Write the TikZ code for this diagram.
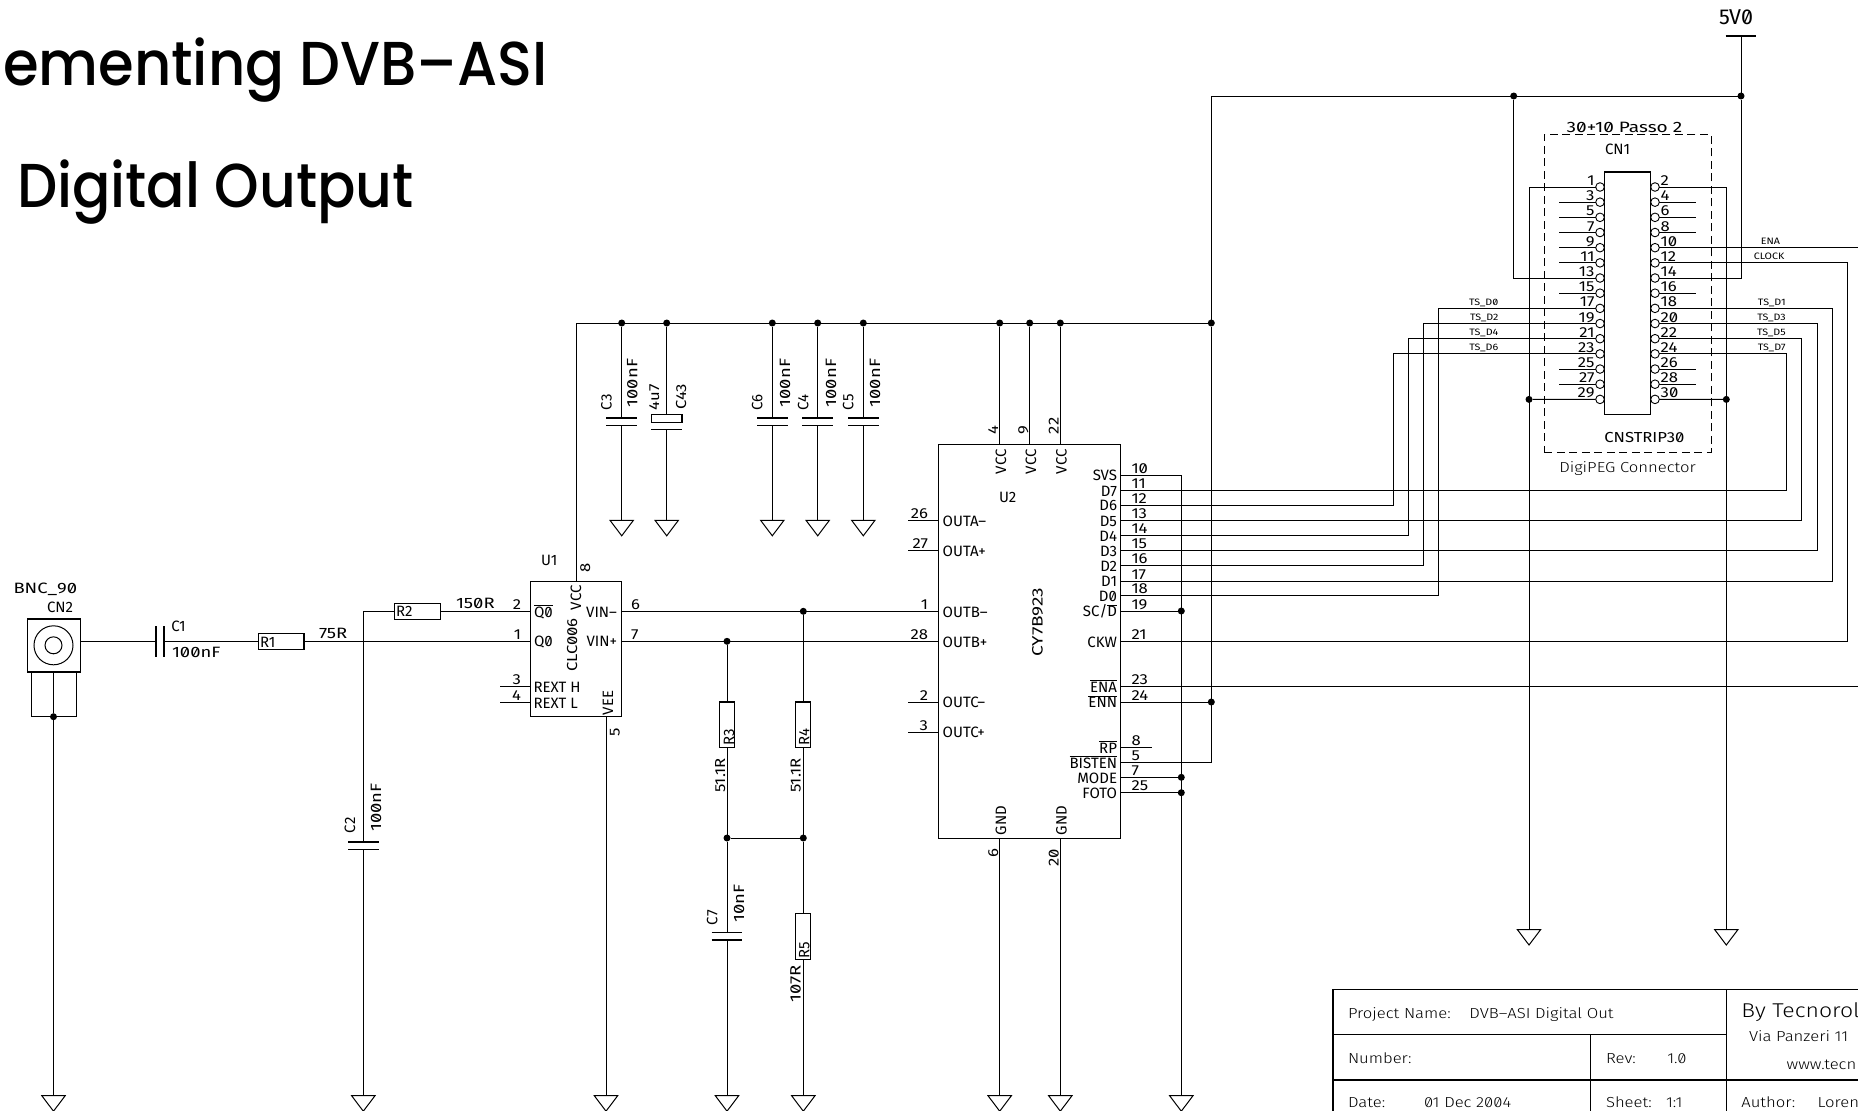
\documentclass[tikz,border=0pt]{standalone}
\usepackage{fontspec}
\newfontfamily\labfont[RawFeature=+zero]{Fira Sans}
\newfontfamily\pinfont[RawFeature=+zero,FakeStretch=1.15]{Fira Sans}
\newfontfamily\valfont[RawFeature=+zero,FakeStretch=1.23]{Fira Sans}
\newfontfamily\widefont[RawFeature=+zero,FakeStretch=1.27]{Fira Sans}
\newfontfamily\thinfont[RawFeature=+zero,FakeStretch=1.15]{Fira Sans Light}
\newfontfamily\titlefont{Poppins Medium}
\newcounter{tc}
\newcommand\ovl[1]{$\overline{\hbox{#1}}$}
\tikzset{
  wire/.style={line width=1pt,black},
  box/.style={draw=black,line width=1.3pt,inner sep=0pt,outer sep=0pt,fill=none},
  lab/.style={inner sep=0pt,outer sep=0pt,text=black,font=\labfont\fontsize{15}{15}\selectfont},
  pinno/.style={font=\pinfont\fontsize{14.5}{15}\selectfont},
  val/.style={font=\valfont\fontsize{15}{15}\selectfont},
  tinylab/.style={font=\pinfont\fontsize{9.3}{10}\selectfont},
  blocklab/.style={font=\thinfont\fontsize{14.5}{15}\selectfont},
  bigt/.style={inner sep=0pt,outer sep=0pt,text=black,anchor=base west,transform shape,font=\titlefont\fontsize{62}{62}\selectfont},
  junc/.style={circle,fill=black,draw=none,minimum size=7pt,inner sep=0pt,outer sep=0pt},
  pinc/.style={circle,draw=black,line width=0.9pt,fill=white,minimum size=8.6pt,inner sep=0pt,outer sep=0pt},
}
\newcommand\tx[4][]{\stepcounter{tc}\node[lab,anchor=base west,#1] (t\arabic{tc}) at (#2,#3) {#4};}
\newcommand\tr[4][]{\stepcounter{tc}\node[lab,anchor=base east,#1] (t\arabic{tc}) at (#2,#3) {#4};}
\newcommand\rx[4][]{\stepcounter{tc}\node[lab,anchor=base west,rotate=90,#1] (t\arabic{tc}) at (#2,#3) {#4};}
\newcommand\jn[2]{\node[junc] (#1) at (#2) {};}
% ground symbol at a named coordinate
\newcommand\gnd[2]{\coordinate (#1) at (#2);
  \draw[wire] (#1) +(-11.7,0) -- +(11.7,0) -- +(0,15.5) -- cycle;}
% capacitor with horizontal plates
\newcommand\vcap[4]{\coordinate (#1a) at (#2,#3);\coordinate (#1b) at (#2,#4);
  \draw[wire,line width=1.2pt] (#1a) +(-15.3,0) -- +(15.3,0);
  \draw[wire,line width=1.2pt] (#1b) +(-15.3,0) -- +(15.3,0);}
\begin{document}
\begin{tikzpicture}[x=1pt,y=-1pt]
\useasboundingbox (0,0) rectangle (1858,1111);
\fill[white] (0,0) rectangle (1858,1111);
% ---------- titles
\node[bigt,xscale=0.93] (title1) at (3,85.3) {ementing DVB–ASI};
\node[bigt,xscale=0.915] (title2) at (17,207) {Digital Output};
% ---------- parts
\node[box,minimum width=53.5pt,minimum height=53pt] (CN2) at (54,645.5) {};
\node[draw=black,line width=1pt,circle,minimum size=39pt,inner sep=0pt] (CN2o) at (53.5,645.3) {};
\node[draw=black,line width=1pt,circle,minimum size=17pt,inner sep=0pt] (CN2i) at (53.5,645.3) {};
\node[box,minimum width=45.2pt,minimum height=16pt] (R1) at (281.4,641.3) {};
\node[box,minimum width=45.7pt,minimum height=16pt] (R2) at (417.5,611.3) {};
\node[box,minimum width=15.5pt,minimum height=45.7pt] (R3) at (727,724.8) {};
\node[box,minimum width=15pt,minimum height=45.7pt] (R4) at (803.3,724.8) {};
\node[box,minimum width=15pt,minimum height=46pt] (R5) at (803.3,936.7) {};
\node[box,minimum width=91pt,minimum height=135.4pt] (U1) at (576.1,649) {};
\node[box,minimum width=182pt,minimum height=393.6pt] (U2) at (1029.7,641.5) {};
\node[box,minimum width=46pt,minimum height=242.3pt] (CN1) at (1627.3,293.2) {};
\node[draw=black,line width=1pt,dash pattern=on 8pt off 4.5pt,inner sep=0pt,outer sep=0pt,minimum width=166.7pt,minimum height=317.7pt] (CNframe) at (1627.7,293.2) {};
% capacitors
\vcap{C3}{621.7}{418}{425.7}
\vcap{C6}{772.3}{418}{425.7}
\vcap{C4}{817.7}{418}{425.7}
\vcap{C5}{863.3}{418}{425.7}
\vcap{C2}{363.3}{842}{849.7}
\vcap{C7}{727}{932.3}{940}
\coordinate (C43a) at (666.7,414.7);
\coordinate (C43b) at (666.7,429.3);
\node[box,minimum width=30.3pt,minimum height=7.6pt] (C43r) at (666.8,418.5) {};
\draw[wire,line width=1.2pt] (C43b) +(-15.3,0) -- +(15.3,0);
\coordinate (C1a) at (156,641.3);
\coordinate (C1b) at (164,641.3);
\draw[wire,line width=1.2pt] (C1a) +(0,-15.3) -- +(0,15.3);
\draw[wire,line width=1.2pt] (C1b) +(0,-15.3) -- +(0,15.3);
% ---------- grounds
\gnd{G1}{53.5,1095.7}\gnd{G2}{363.3,1095.7}\gnd{G3}{606,1095.7}\gnd{G4}{727,1095.7}
\gnd{G5}{803.3,1095.7}\gnd{G6}{999.7,1095.7}\gnd{G7}{1060.3,1095.7}\gnd{G8}{1181.3,1095.7}
\gnd{G9}{1529,929.5}\gnd{G10}{1726.3,929.5}
\gnd{G11}{621.7,520.3}\gnd{G12}{666.7,520.3}\gnd{G13}{772.3,520.3}\gnd{G14}{817.7,520.3}\gnd{G15}{863.3,520.3}
% ---------- U1 pins
\coordinate (U1p2) at (530.6,611.3);
\coordinate (U1p1) at (530.6,641.3);
\coordinate (U1p3) at (530.6,686.7);
\coordinate (U1p4) at (530.6,702);
\coordinate (U1p6) at (621.6,611.3);
\coordinate (U1p7) at (621.6,641.3);
\coordinate (U1p8) at (576.3,581.3);
\coordinate (U1p5) at (606,716.7);
\coordinate (S3) at (500,686.7);
\coordinate (S4) at (500,702);
% ---------- U2 pins
\foreach \n/\y in {26/520.3,27/550.3,1/611.3,28/641.3,2/702,3/732}{\coordinate (U2p\n) at (938.7,\y);}
\foreach \n/\y in {10/475,11/490.3,12/505,13/520.3,14/535.7,15/550.3,16/565.7,17/581,18/595.7,19/611,21/641.3,23/686.7,24/702,8/747.3,5/762.3,7/777.3,25/792.7}
 {\coordinate (U2p\n) at (1120.7,\y);\coordinate (U2q\n) at (1151.7,\y);
  \draw[wire] (U2p\n) -- (U2q\n);
  \tx[pinno]{1131.5}{\y-2}{\n}}
\foreach \n/\y in {26/520.3,27/550.3,2/702,3/732}
 {\coordinate (U2s\n) at (908.3,\y);\draw[wire] (U2p\n) -- (U2s\n);}
\foreach \n/\y in {26/520.3,27/550.3,1/611.3,28/641.3,2/702,3/732}
 {\tr[pinno]{928}{\y-2}{\n}}
\foreach \y/\t in {475/SVS,490.3/D7,505/D6,520.3/D5,535.7/D4,550.3/D3,565.7/D2,581/D1,595.7/D0,611/{SC/\ovl{D}},641.3/CKW,686.7/\ovl{ENA},702/\ovl{ENN},747.3/\ovl{RP},762.3/\ovl{BISTEN},777.3/MODE,792.7/FOTO}
 {\tr{1117}{\y+5.7}{\t}}
\foreach \y/\t in {520.3/OUTA–,550.3/OUTA+,611.3/OUTB–,641.3/OUTB+,702/OUTC–,732/OUTC+}
 {\tx{942.7}{\y+5.7}{\t}}
\coordinate (U2v1) at (999.7,444.7);\coordinate (U2v2) at (1029.7,444.7);\coordinate (U2v3) at (1060.3,444.7);
\coordinate (U2g1) at (999.7,838.3);\coordinate (U2g2) at (1060.3,838.3);
\rx{1006}{474}{VCC}\rx{1036}{474}{VCC}\rx{1066.5}{474}{VCC}
\rx{1006}{835}{GND}\rx{1066.5}{835}{GND}
\rx[pinno]{998}{434}{4}\rx[pinno]{1028}{434}{9}\rx[pinno]{1058.5}{434}{22}
\rx[pinno,anchor=base east]{998}{849}{6}\rx[pinno,anchor=base east]{1058.5}{849}{20}
\tx{999}{502.7}{U2}
\rx[widefont/.style={},font=\widefont\fontsize{15}{15}\selectfont]{1042.7}{656.7}{CY7B923}
% ---------- U1 texts
\tx{541}{565}{U1}
\rx[pinno]{590}{572}{8}
\rx{581}{610}{VCC}
\rx[pinno]{577}{671.7}{CLC006}
\rx{613}{715}{VEE}
\rx[pinno,anchor=base east]{619.6}{727.7}{5}
\tx{534}{617}{\ovl{Q0}}
\tx{534}{646.7}{Q0}
\tr{617}{617}{VIN–}
\tr{617}{646.7}{VIN+}
\tx{533.5}{692.7}{REXT H}
\tx{533.5}{708}{REXT L}
\tr[pinno]{521}{609.3}{2}\tr[pinno]{521}{639.3}{1}\tr[pinno]{521}{684}{3}\tr[pinno]{521}{700}{4}
\tx[pinno]{631}{609.3}{6}\tx[pinno]{631}{639.3}{7}
% ---------- left part texts
\tx[val]{13.5}{593.3}{BNC\_90}
\tx{47}{612.7}{CN2}
\tx{171.4}{631.3}{C1}
\tx[val]{172}{657.7}{100nF}
\tx{260}{647.3}{R1}
\tx[val]{319}{638.7}{75R}
\tx{396}{616.7}{R2}
\tx[val]{456}{608.7}{150R}
\rx{355}{833.3}{C2}
\rx[val]{381}{831.7}{100nF}
% ---------- decoupling texts
\rx{611.7}{410}{C3}\rx[val]{637.3}{407.3}{100nF}
\rx[pinno]{659}{410}{4u7}\rx[pinno]{686}{409.3}{C43}
\rx{762.3}{410}{C6}\rx[val]{790}{407.3}{100nF}
\rx{808.3}{410}{C4}\rx[val]{836}{407.3}{100nF}
\rx{853.3}{410}{C5}\rx[val]{880}{407.3}{100nF}
\rx{734}{745.7}{R3}\rx{809.3}{745.7}{R4}
\rx[pinno]{725}{792.7}{51.1R}\rx[pinno]{800.7}{792.7}{51.1R}
\rx{717.3}{925}{C7}\rx[val]{744}{922.7}{10nF}
\rx{809.3}{958.3}{R5}\rx[val]{800.7}{1002.7}{107R}
% ---------- CN1 pins
\foreach \i in {1,...,15}{
  \pgfmathsetmacro\yy{187+15.17*(\i-1)}
  \pgfmathtruncatemacro\nl{2*\i-1}
  \pgfmathtruncatemacro\nr{2*\i}
  \node[pinc] (CNl\nl) at (1600,\yy) {};
  \node[pinc] (CNr\nr) at (1655,\yy) {};
  \tr[pinno]{1594.5}{\yy-1.5}{\nl}
  \tx[pinno]{1660.7}{\yy-1.5}{\nr}
}
\foreach \n in {3,5,7,9,11,15,25,27}{\coordinate (CS\n) at (1559,0);\draw[wire] (CNl\n.west) -- (CNl\n.west -| CS\n);}
\foreach \n in {4,6,8,16,26,28}{\coordinate (CS\n) at (1695.7,0);\draw[wire] (CNr\n.east) -- (CNr\n.east -| CS\n);}
\tx[font=\widefont\fontsize{15}{15}\selectfont]{1566.7}{132}{30+10 Passo 2}
\tx{1605}{154.7}{CN1}
\tx[pinno]{1604.3}{442.3}{CNSTRIP30}
\tx[blocklab]{1559.3}{472.7}{DigiPEG Connector}
\tx[font=\labfont\fontsize{21.5}{22}\selectfont]{1719}{24}{5V0}
\foreach \x/\a/\t in {1498.3/305/TS\_D0,1498.3/320/TS\_D2,1498.3/335/TS\_D4,1498.3/350/TS\_D6}{\tr[tinylab]{\x}{\a}{\t}}
\foreach \x/\a/\t in {1785.7/305/TS\_D1,1785.7/320/TS\_D3,1785.7/335/TS\_D5,1785.7/350/TS\_D7,1780/244/ENA,1784.3/259.3/CLOCK}{\tr[tinylab]{\x}{\a}{\t}}
% ---------- column guides
\coordinate (xA) at (1529,0);\coordinate (xB) at (1726.3,0);
\coordinate (xF) at (1181.3,0);\coordinate (xK) at (1847.3,0);
\coordinate (yBus) at (0,323);\coordinate (yTop) at (0,96);\coordinate (edge) at (1858,0);
% ---------- junctions
\foreach \x/\n in {621.7/a,666.7/b,772.3/c,817.7/d,863.3/e,999.7/f,1029.7/g,1060.3/h,1211.3/i}{\jn{B\n}{\x,323}}
\jn{JT1}{1513.7,96}\jn{JT2}{1741,96}
\jn{J29}{1529,399.4}\jn{J30}{1726.3,399.4}
\jn{JF1}{1181.3,611}\jn{JF2}{1181.3,777.3}\jn{JF3}{1181.3,792.7}
\jn{JE}{1211.3,702}
\jn{J1}{803.3,611.3}\jn{J2}{727,641.3}\jn{J3}{727,838}\jn{J4}{803.3,838}
\jn{JCN}{53.5,716.7}
% ---------- wires
\draw[wire] (U1p8) -- (U1p8 |- yBus) -- (Bi);
\draw[wire] (Bi) -- (Bi |- U2p5) -- (U2p5);
\draw[wire] (Bi) -- (Bi |- yTop) -- (JT2);
\coordinate (V5) at (1741,36);
\draw[wire] (V5) -- (JT2);
\draw[wire] (JT2) -- (JT2 |- CNr14) -- (CNr14.east);
\draw[wire] (JT1) -- (JT1 |- CNl13) -- (CNl13.west);
\draw[wire,line width=1.2pt] (V5) +(-15.3,0) -- +(15.3,0);
\foreach \a/\b in {Ba/C3a,C3b/G11,Bb/C43a,C43b/G12,Bc/C6a,C6b/G13,Bd/C4a,C4b/G14,Be/C5a,C5b/G15,Bf/U2v1,Bg/U2v2,Bh/U2v3,U2g1/G6,U2g2/G7,U1p5/G3,J3/C7a,C7b/G4,J4/R5.north,R5.south/G5,R3.south/J3,R4.south/J4,J3/J4,J1/R4.north,J2/R3.north,JCN/G1,C2b/G2,U1p2/R2.east,U1p1/R1.east,R1.west/C1b,U1p3/S3,U1p4/S4,U1p6/U2p1,U1p7/U2p28,CNl29.west/J29,CNr30.east/J30,U2p19/JF1,U2p7/JF2,U2p25/JF3,U2p24/JE}{\draw[wire] (\a) -- (\b);}
% connector pins to grounds
\draw[wire] (CNl1.west) -- (CNl1.west -| xA) -- (G9);
\draw[wire] (CNr2.east) -- (CNr2.east -| xB) -- (G10);
% enable and clock
\draw[wire] (CNr10.east) -- (CNr10.east -| edge);
\draw[wire] (U2p23) -- (U2p23 -| edge);
\draw[wire] (CNr12.east) -- (CNr12.east -| xK) -- (U2p21 -| xK) -- (U2p21);
% SVS rail
\draw[wire] (U2p10) -- (U2p10 -| xF) -- (G8);
% data lines
\foreach \x/\p/\q in {1786.7/CNr24/U2p11,1801.7/CNr22/U2p13,1817.3/CNr20/U2p15,1832/CNr18/U2p17}
 {\coordinate (col\q) at (\x,0);\draw[wire] (\p.east) -- (\p.east -| col\q) -- (\q -| col\q) -- (\q);}
\foreach \x/\p/\q in {1393/CNl23/U2p12,1408/CNl21/U2p14,1423.7/CNl19/U2p16,1438.7/CNl17/U2p18}
 {\coordinate (col\q) at (\x,0);\draw[wire] (\p.west) -- (\p.west -| col\q) -- (\q -| col\q) -- (\q);}
% CN2 and input chain
\coordinate (CN2out) at (80.8,641.3);
\draw[wire] (CN2out) -- (C1a);
\coordinate (CN2s) at (53.5,672);\coordinate (CN2l) at (31.4,672);\coordinate (CN2r) at (76.7,672);
\draw[wire] (CN2s) -- (JCN);
\draw[wire] (CN2l) -- (CN2l |- JCN) -- (CN2r |- JCN) -- (CN2r);
\draw[wire] (R2.west) -- (R2.west -| C2a) -- (C2a);
% ---------- title block
\coordinate (tbA) at (1333,989.3);\coordinate (tbB) at (1333,1034.7);\coordinate (tbC) at (1333,1080);
\coordinate (tbD) at (1333,1111);\coordinate (tbE) at (1590.4,1034.7);\coordinate (tbF) at (1590.4,1111);
\coordinate (tbG) at (1726.3,989.3);\coordinate (tbH) at (1726.3,1111);
\draw[box] (tbD) -- (tbA) -- (tbA -| edge);
\draw[box] (tbB) -- (tbB -| tbG);
\draw[box] (tbC) -- (tbC -| edge);
\draw[box] (tbE) -- (tbF);
\draw[box] (tbG) -- (tbH);
\tx[blocklab]{1348}{1018}{Project Name:}
\tx[blocklab]{1469.3}{1018}{DVB–ASI Digital Out}
\tx[blocklab]{1348}{1063.3}{Number:}
\tx[blocklab]{1606}{1063.3}{Rev:}
\tx[blocklab]{1667.3}{1063.3}{1.0}
\tx[blocklab]{1348}{1107.7}{Date:}
\tx[blocklab]{1424}{1107.7}{01 Dec 2004}
\tx[blocklab]{1606}{1107.7}{Sheet:}
\tx[blocklab]{1666}{1107.7}{1:1}
\tx[font=\thinfont\fontsize{20}{20}\selectfont]{1741.4}{1017.7}{By Tecnorol}
\tx[blocklab]{1749}{1041}{Via Panzeri 11}
\tx[blocklab]{1786.7}{1069.3}{www.tecn}
\tx[blocklab]{1741.4}{1107.7}{Author:}
\tx[blocklab]{1817.6}{1107.7}{Loren}
\end{tikzpicture}
\end{document}
